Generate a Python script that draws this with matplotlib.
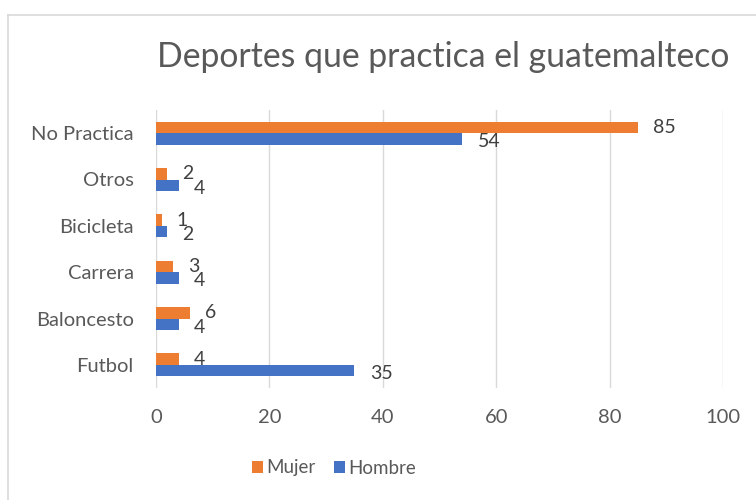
import matplotlib
matplotlib.use('Agg')
import matplotlib.pyplot as plt
from matplotlib.lines import Line2D
import numpy as np

categories = ['Futbol', 'Baloncesto', 'Carrera', 'Bicicleta', 'Otros', 'No Practica']
mujer = [4, 6, 3, 1, 2, 85]
hombre = [35, 4, 4, 2, 4, 54]
xticks = [0, 20, 40, 60, 80, 100]

orange = '#ED7D31'
blue = '#4472C4'
grey_text = '#595959'

plt.rcParams['font.family'] = ['Lato', 'DejaVu Sans']

fig = plt.figure(figsize=(7.56, 5), dpi=100)
ax = fig.add_axes([156 / 756, 1 - 388 / 500, (723 - 156) / 756, (388 - 110) / 500])

y = np.arange(len(categories))
h = 0.25
ax.barh(y + h / 2, mujer, height=h, color=orange, label='Mujer', zorder=3)
ax.barh(y - h / 2, hombre, height=h, color=blue, label='Hombre', zorder=3)

for yi, v in zip(y, mujer):
    ax.annotate(str(v), (v, yi + h / 2), xytext=(11, 0), textcoords='offset points',
                ha='left', va='center', fontsize=14, color='#404040')
for yi, v in zip(y, hombre):
    ax.annotate(str(v), (v, yi - h / 2), xytext=(11, -2), textcoords='offset points',
                ha='left', va='center', fontsize=14, color='#404040')

ax.set_xlim(0, 100)
ax.set_ylim(-0.5, len(categories) - 0.5)
ax.set_xticks(xticks)
ax.set_yticks(y)
ax.set_yticklabels(categories)
ax.xaxis.grid(True, color='#D9D9D9', linewidth=1, zorder=0)
ax.tick_params(axis='both', length=0, labelsize=14.5, colors=grey_text)
ax.tick_params(axis='x', pad=15)
ax.tick_params(axis='y', pad=16)
for s in ax.spines.values():
    s.set_visible(False)

fig.text(443 / 756, 1 - 57 / 500, 'Deportes que practica el guatemalteco',
         ha='center', va='center', fontsize=24.3, color=grey_text)

fig.legend(loc='center', bbox_to_anchor=(334 / 756, 1 - 468 / 500), ncol=2,
           frameon=False, fontsize=13.5, labelcolor=grey_text, handlelength=0.6,
           handleheight=0.6, handletextpad=0.15, columnspacing=1.0)

# chart box outline (left and top edges visible)
fig.add_artist(Line2D([8 / 756, 8 / 756], [0, 1 - 15 / 500], transform=fig.transFigure,
                      color='#D9D9D9', linewidth=1.2))
fig.add_artist(Line2D([8 / 756, 1], [1 - 15 / 500, 1 - 15 / 500], transform=fig.transFigure,
                      color='#D9D9D9', linewidth=1.2))

fig.savefig('out.png', dpi=100)
